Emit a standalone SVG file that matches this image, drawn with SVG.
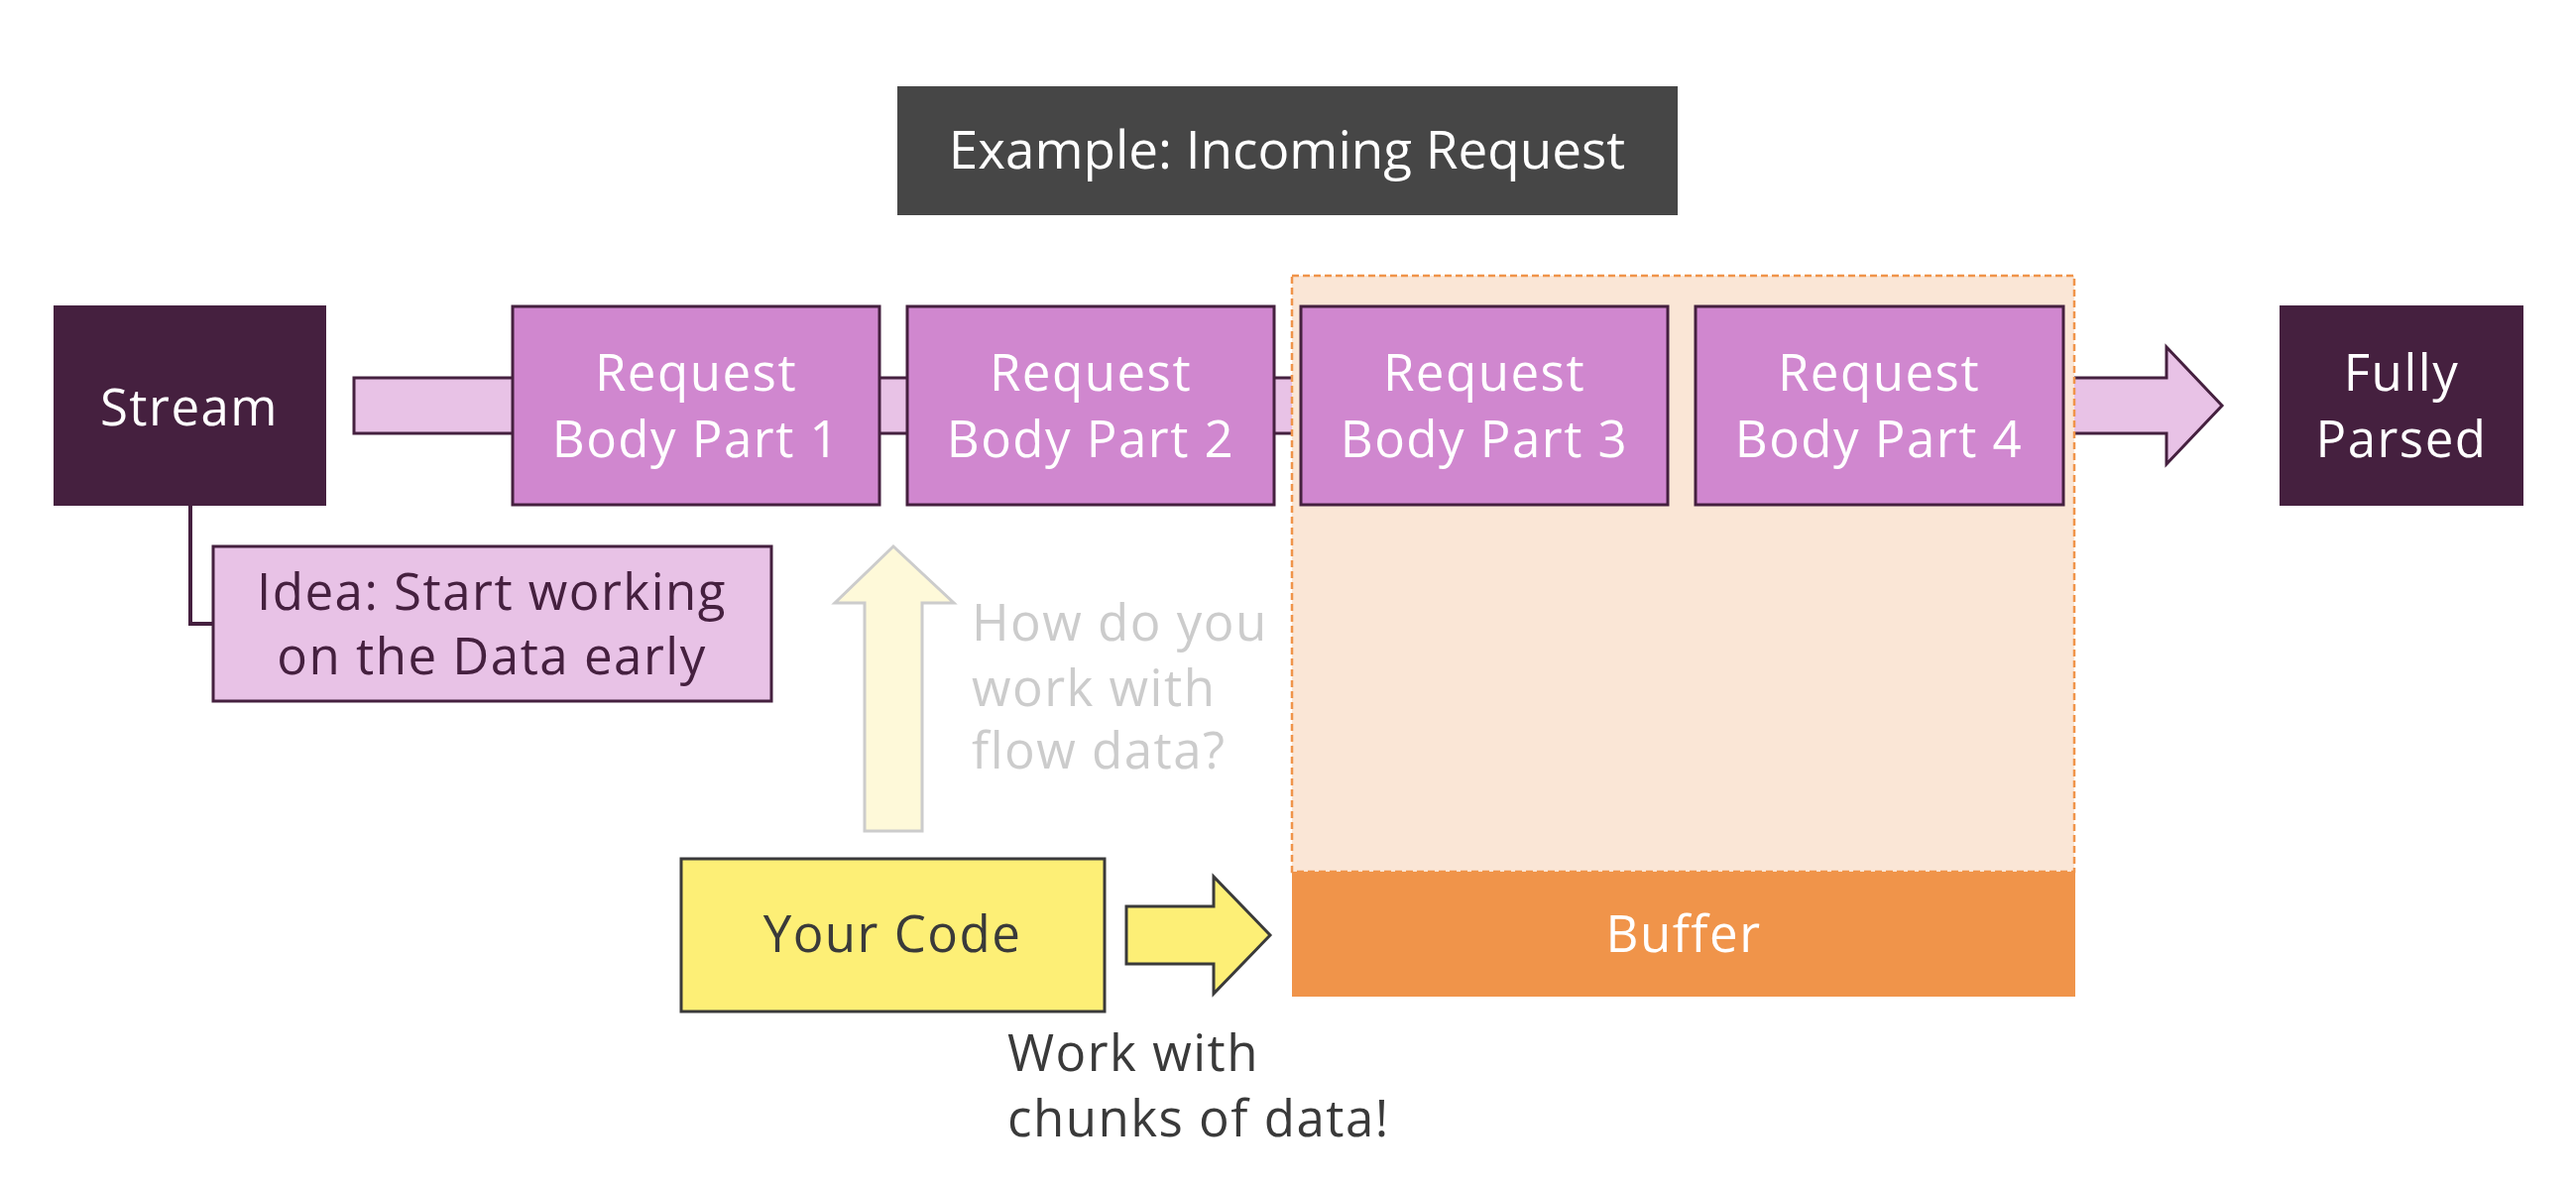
<svg xmlns="http://www.w3.org/2000/svg" width="2598" height="1200" viewBox="0 0 2598 1200">
<style>
text{font-family:"Open Sans","Liberation Sans",sans-serif;font-size:51px;letter-spacing:1.5px;}
.w{fill:#ffffff;text-anchor:middle;}
.dark{fill:#45203F;stroke:#45203F;stroke-width:2;}
.part{fill:#D087CF;stroke:#45203F;stroke-width:3;}
.band{fill:#E8C2E6;stroke:#45203F;stroke-width:3;}
</style>
<rect width="2598" height="1200" fill="#ffffff"/>
<g id="connectors">
<path class="band" d="M357,381 H2185 V350 L2241,409 L2185,468 V437 H357 Z"/>
<path d="M192,510 V629 H216" fill="none" stroke="#45203F" stroke-width="4"/>
<path d="M901,551 L962,608 H930 V838 H872 V608 H842 Z" fill="#FEF9D9" stroke="#CCCCCC" stroke-width="3"/>
<path d="M1136,914 H1224 V884 L1281,943 L1224,1002 V972 H1136 Z" fill="#FDEF76" stroke="#3A3A3A" stroke-width="3"/>
</g>
<g id="buffer-area">
<rect x="1303" y="278" width="789" height="601" fill="#FAE6D6" stroke="#F0944A" stroke-width="2.5" stroke-dasharray="7,4"/>
<rect x="1303" y="879" width="790" height="126" fill="#F0944A"/>
<text class="w" x="1698" y="960">Buffer</text>
</g>
<g id="title">
<rect x="905" y="87" width="787" height="130" fill="#464646"/>
<text class="w" x="1298" y="170" style="font-size:53px;letter-spacing:0">Example: Incoming Request</text>
</g>
<g id="stream">
<rect class="dark" x="55" y="309" width="273" height="200"/>
<text class="w" x="191" y="429">Stream</text>
</g>
<g id="part1">
<rect class="part" x="517" y="309" width="370" height="200"/>
<text class="w" x="702" y="394">Request</text>
<text class="w" x="702" y="461">Body Part 1</text>
</g>
<g id="part2">
<rect class="part" x="915" y="309" width="370" height="200"/>
<text class="w" x="1100" y="394">Request</text>
<text class="w" x="1100" y="461">Body Part 2</text>
</g>
<g id="part3">
<rect class="part" x="1312" y="309" width="370" height="200"/>
<text class="w" x="1497" y="394">Request</text>
<text class="w" x="1497" y="461">Body Part 3</text>
</g>
<g id="part4">
<rect class="part" x="1710" y="309" width="371" height="200"/>
<text class="w" x="1895" y="394">Request</text>
<text class="w" x="1895" y="461">Body Part 4</text>
</g>
<g id="parsed">
<rect class="dark" x="2300" y="309" width="244" height="200"/>
<text class="w" x="2422" y="394">Fully</text>
<text class="w" x="2422" y="461">Parsed</text>
</g>
<g id="idea">
<rect class="band" x="215" y="551" width="563" height="156"/>
<text x="496" y="615" style="fill:#45203F;text-anchor:middle">Idea: Start working</text>
<text x="496" y="680" style="fill:#45203F;text-anchor:middle">on the Data early</text>
</g>
<g id="question">
<text x="980" y="646" style="fill:#CCCCCC">How do you</text>
<text x="980" y="712" style="fill:#CCCCCC">work with</text>
<text x="980" y="775" style="fill:#CCCCCC">flow data?</text>
</g>
<g id="your-code">
<rect x="687" y="866" width="427" height="154" fill="#FDEF76" stroke="#3A3A3A" stroke-width="3"/>
<text x="900" y="960" style="fill:#3A3A3A;text-anchor:middle">Your Code</text>
</g>
<g id="chunks">
<text x="1016" y="1080" style="fill:#3A3A3A">Work with</text>
<text x="1016" y="1146" style="fill:#3A3A3A">chunks of data!</text>
</g>
</svg>
